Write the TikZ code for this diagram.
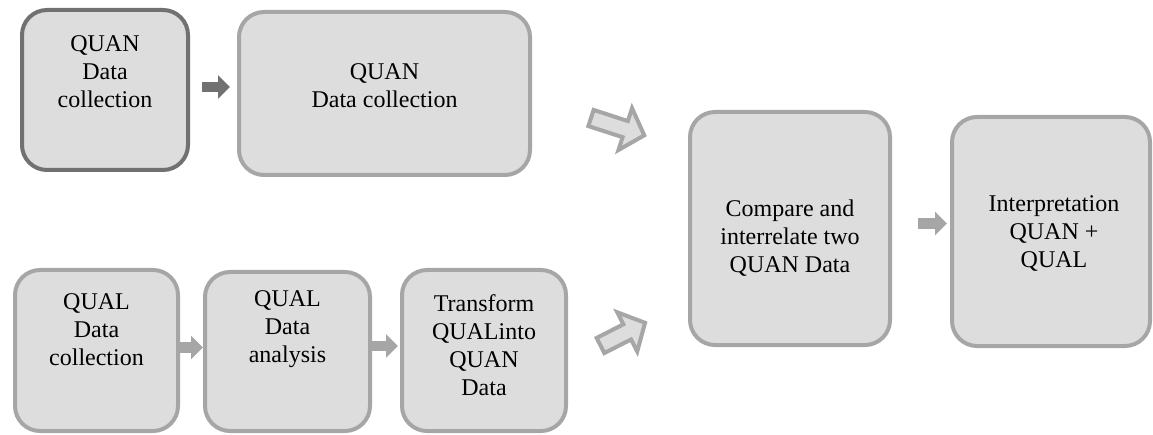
\documentclass[tikz,border=0pt]{standalone}
\usepackage{fontspec}
\setmainfont{Liberation Serif}
\usetikzlibrary{arrows.meta}
\definecolor{boxfill}{HTML}{DDDDDD}
\definecolor{edgelight}{HTML}{A6A6A6}
\definecolor{edgedark}{HTML}{717171}
\begin{document}
\begin{tikzpicture}[x=1pt,y=-1pt,
  box/.style={draw=edgelight, fill=boxfill, line width=4pt, rounded corners=25pt, inner sep=0pt},
  darkbox/.style={box, draw=edgedark},
  lbl/.style={align=center, font=\fontsize{24}{28}\selectfont, inner sep=0pt},
  flow/.style={draw=edgelight, line width=10.5pt, -{Triangle[length=12pt,width=23pt]}},
  darkflow/.style={flow, draw=edgedark, fill=edgedark},
  pics/hollowarrow/.style={code={
    \draw[draw=edgelight, fill=boxfill, line width=4pt, line join=miter]
      (0,-8.5) -- (#1-20,-8.5) -- (#1-20,-22) -- (#1,0) -- (#1-20,22) -- (#1-20,8.5) -- (0,8.5) -- cycle;}}]
\useasboundingbox (0,0) rectangle (1153,435);

% boxes
\node[darkbox, minimum width=166pt, minimum height=160pt] (b1) at (105,90) {};
\node[box, minimum width=291pt, minimum height=163pt] (b2) at (384.5,93.5) {};
\node[box, minimum width=163pt, minimum height=161pt] (b3) at (96.5,350.5) {};
\node[box, minimum width=165pt, minimum height=159pt] (b4) at (287.5,351.5) {};
\node[box, minimum width=164pt, minimum height=161pt] (b5) at (484,350.5) {};
\node[box, minimum width=200pt, minimum height=233pt] (b6) at (790,228.5) {};
\node[box, minimum width=198pt, minimum height=229pt] (b7) at (1051,231.5) {};

% labels
\node[lbl] (t1) at (105,71.5) {QUAN\\Data\\collection};
\node[lbl] (t2) at (384.5,86) {QUAN\\Data collection};
\node[lbl] (t3) at (96.5,329.5) {QUAL\\Data\\collection};
\node[lbl] (t4) at (287.5,329.5) {QUAL\\Data\\analysis};
\node[lbl] (t5) at (484,345.5) {Transform\\QUALinto\\QUAN\\Data};
\node[lbl] (t6) at (790,238.5) {Compare and\\interrelate two\\QUAN Data};
\node[lbl] (t7) at (1054,233.5) {Interpretation\\QUAN +\\QUAL};

% solid connectors
\draw[darkflow, shorten <=12pt, shorten >=7pt]
  ([yshift=3pt]b1.east) -- ([yshift=3pt]b1.east -| b2.west);
\draw[flow] ([yshift=3pt]b3.east) -- ([yshift=3pt]b3.east -| b4.west);
\draw[flow, shorten >=2pt] ([yshift=5.5pt]b4.east) -- ([yshift=5.5pt]b4.east -| b5.west);
\draw[flow, shorten <=26pt, shorten >=3pt]
  ([yshift=5pt]b6.east) -- ([yshift=5pt]b6.east -| b7.west);

% hollow block arrows towards the comparison step
\coordinate (h1) at (591,118);
\coordinate (h2) at (600.5,345.5);
\pic[rotate=-18] at (h1) {hollowarrow=56};
\pic[rotate=27] at (h2) {hollowarrow=50};
\end{tikzpicture}
\end{document}
